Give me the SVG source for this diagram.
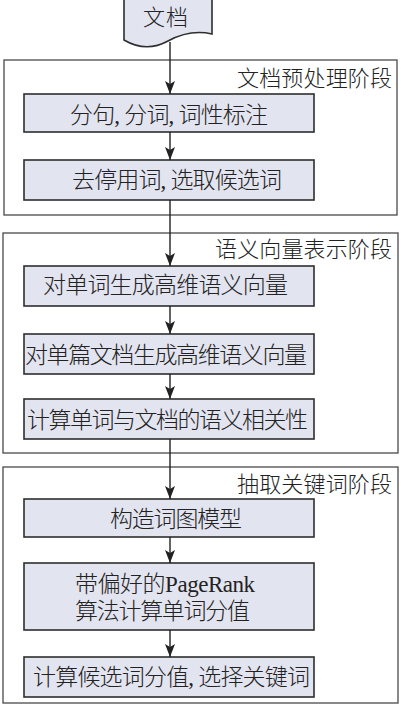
<svg xmlns="http://www.w3.org/2000/svg" width="401" height="705" viewBox="0 0 401 705">
<style>
.stage{fill:#ffffff;stroke:#4a4a4a;stroke-width:1.3}
.box{fill:#e2e4ef;stroke:#2e2e2e;stroke-width:1.6}
.t{font-family:"Liberation Serif","Noto Sans CJK SC",serif;font-size:23px;font-weight:300;fill:#222222;dominant-baseline:central}
.lbl{font-family:"Liberation Serif","Noto Sans CJK SC",serif;font-size:22px;font-weight:300;fill:#222222;dominant-baseline:central}
.conn{stroke:#222222;stroke-width:1.4;fill:none;marker-end:url(#ah)}
</style>
<defs>
<marker id="ah" markerUnits="userSpaceOnUse" markerWidth="14" markerHeight="10" refX="13" refY="5" orient="auto" viewBox="0 0 14 10">
<path d="M0,0 L13,5 L0,10 L3,5 Z" fill="#222222"/>
</marker>
</defs>
<rect width="401" height="705" fill="#ffffff"/>

<g id="stage1">
<rect class="stage" x="4" y="60" width="393" height="155"/>
<text class="lbl" x="237" y="78" textLength="155">文档预处理阶段</text>
</g>
<g id="stage2">
<rect class="stage" x="3" y="233" width="395" height="220"/>
<text class="lbl" x="215" y="249" textLength="177">语义向量表示阶段</text>
</g>
<g id="stage3">
<rect class="stage" x="3" y="467" width="395" height="236"/>
<text class="lbl" x="237" y="484" textLength="155">抽取关键词阶段</text>
</g>

<g id="doc">
<path d="M124,-2 L124,40 Q146,53 168,41 Q190,29 212,34 L212,-2 Z" fill="#e2e4ef" stroke="#2e2e2e" stroke-width="1.6"/>
<text class="lbl" x="143" y="17" textLength="45">文档</text>
</g>

<g id="n1">
<rect class="box" x="24" y="94" width="290" height="38"/>
<text class="t" x="70" y="115" textLength="198">分句, 分词, 词性标注</text>
</g>
<g id="n2">
<rect class="box" x="24" y="160" width="290" height="40"/>
<text class="t" x="72" y="180" textLength="210">去停用词, 选取候选词</text>
</g>
<g id="n3">
<rect class="box" x="24" y="266" width="290" height="40"/>
<text class="t" x="43" y="285" textLength="245">对单词生成高维语义向量</text>
</g>
<g id="n4">
<rect class="box" x="24" y="334" width="290" height="40"/>
<text class="t" x="25" y="355" textLength="282">对单篇文档生成高维语义向量</text>
</g>
<g id="n5">
<rect class="box" x="24" y="399" width="290" height="40"/>
<text class="t" x="27" y="420" textLength="281">计算单词与文档的语义相关性</text>
</g>
<g id="n6">
<rect class="box" x="24" y="499" width="290" height="38"/>
<text class="t" x="110" y="519" textLength="132">构造词图模型</text>
</g>
<g id="n7">
<rect class="box" x="24" y="563" width="290" height="67"/>
<text class="t" x="75" y="584" textLength="180">带偏好的PageRank</text>
<text class="t" x="75" y="611" textLength="175">算法计算单词分值</text>
</g>
<g id="n8">
<rect class="box" x="24" y="657" width="290" height="40"/>
<text class="t" x="33" y="677" textLength="277">计算候选词分值, 选择关键词</text>
</g>

<g id="connectors">
<line class="conn" x1="170" y1="42" x2="170" y2="94"/>
<line class="conn" x1="170" y1="132" x2="170" y2="160"/>
<line class="conn" x1="170" y1="200" x2="170" y2="266"/>
<line class="conn" x1="170" y1="306" x2="170" y2="334"/>
<line class="conn" x1="170" y1="374" x2="170" y2="399"/>
<line class="conn" x1="170" y1="439" x2="170" y2="499"/>
<line class="conn" x1="170" y1="537" x2="170" y2="563"/>
<line class="conn" x1="170" y1="630" x2="170" y2="657"/>
</g>
</svg>
